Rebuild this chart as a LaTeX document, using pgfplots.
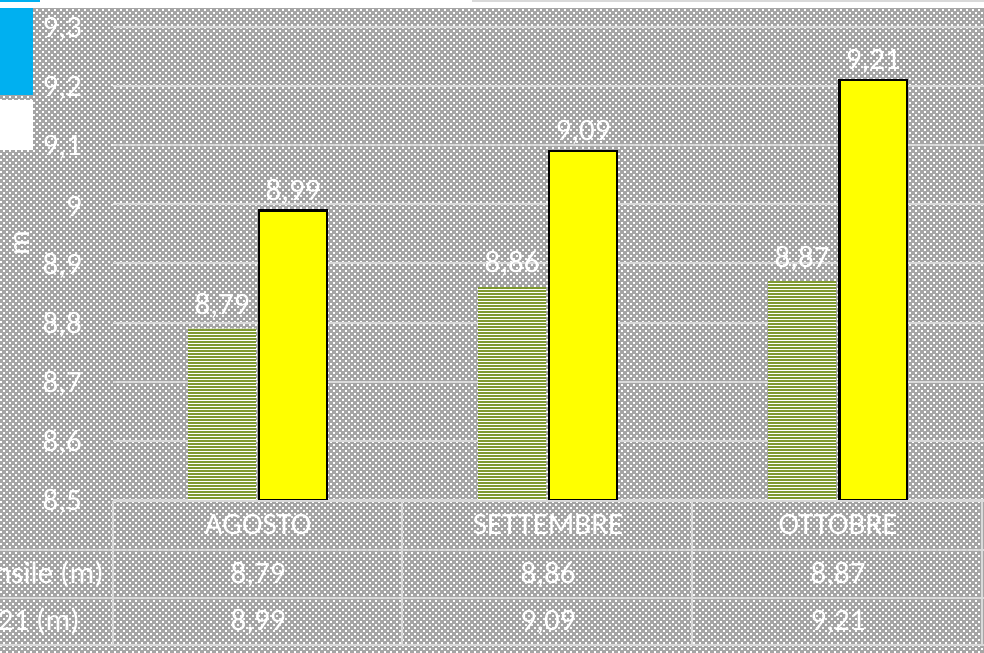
\documentclass[border=0pt]{standalone}
\usepackage{fontspec}
\setmainfont{Carlito}
\usepackage{pgfplots}
\pgfplotsset{compat=1.18}
\usetikzlibrary{patterns}
\definecolor{bggray}{HTML}{A5A5A5}
\definecolor{gridc}{HTML}{D9D9D9}
\definecolor{olivebar}{HTML}{7F9A30}
\definecolor{xlblue}{HTML}{00B0F0}
\definecolor{xlyellow}{HTML}{FFFF00}
\pgfdeclarepatternformonly{xldots}{\pgfqpoint{-1bp}{-1bp}}{\pgfqpoint{7bp}{7bp}}{\pgfqpoint{6bp}{6bp}}{%
 \pgfpathrectangle{\pgfqpoint{0bp}{0bp}}{\pgfqpoint{1.8bp}{1.8bp}}%
 \pgfpathrectangle{\pgfqpoint{3bp}{3bp}}{\pgfqpoint{1.8bp}{1.8bp}}%
 \pgfusepath{fill}}
\pgfdeclarepatternformonly{xlstripes}{\pgfqpoint{-1bp}{-1bp}}{\pgfqpoint{4bp}{4bp}}{\pgfqpoint{3bp}{3bp}}{%
 \pgfpathrectangle{\pgfqpoint{-0.5bp}{0bp}}{\pgfqpoint{4bp}{1.1bp}}%
 \pgfusepath{fill}}
\newcommand{\F}{\fontsize{31bp}{37bp}\selectfont}
\begin{document}
\begin{tikzpicture}[x=1bp,y=1bp]
\useasboundingbox (0,0) rectangle (984,653);
\clip (0,0) rectangle (984,653);
\fill[white] (0,0) rectangle (984,653);
\fill[bggray] (0,0) rectangle (984,645);
\fill[pattern=xldots, pattern color=white] (0,0) rectangle (984,645);
\fill[gridc] (472,650.5) rectangle (984,653);
\fill[xlblue] (0,651) rectangle (40,653);
\fill[xlblue] (0,558) rectangle (33,645);
\fill[white] (0,503) rectangle (33,553);
\node[rotate=90, text=white, font=\F, inner sep=0pt] at (22,410) {m};
\begin{axis}[
  at={(113bp,153bp)}, anchor=south west, scale only axis,
  width=871bp, height=473bp,
  xmin=-0.5, xmax=2.503, ymin=8.5, ymax=9.3,
  ybar, bar width=0.234,
  ytick={8.5,8.6,8.7,8.8,8.9,9,9.1,9.2,9.3},
  xtick={0,1,2}, xticklabels={AGOSTO,SETTEMBRE,OTTOBRE},
  /pgf/number format/.cd, use comma, fixed, precision=2, assume math mode=true,
  /pgfplots/.cd,
  ymajorgrids, grid style={gridc, line width=2bp},
  axis line style={draw=none}, major tick length=0pt,
  ticklabel style={font=\F, text=white, inner sep=0pt},
  yticklabel style={anchor=east, xshift=-31bp, yshift=-2bp},
  xticklabel style={anchor=base, yshift=-35bp},
  nodes near coords,
  every node near coord/.append style={font=\F, text=white, inner sep=0pt},
  clip=false,
]
\addplot[fill=olivebar, draw=none, bar shift=-0.124,
  postaction={pattern=xlstripes, pattern color=white},
  every node near coord/.append style={yshift=10bp}]
  coordinates {(0,8.79) (1,8.86) (2,8.87)};
\addplot[fill=xlyellow, draw=black, line width=2.5bp, bar shift=0.121,
  every node near coord/.append style={yshift=5bp}]
  coordinates {(0,8.99) (1,9.09) (2,9.21)};
\end{axis}
\begin{scope}[gridc, line width=2bp]
\draw (113,152) -- (984,152);
\draw (0,103) -- (984,103);
\draw (0,55) -- (984,55);
\draw (0,8) -- (984,8);
\foreach \x in {113,402,692,982} \draw (\x,8) -- (\x,152);
\end{scope}
\begin{scope}[font=\F, text=white, inner sep=0pt]
\node[anchor=base east] at (104,69) {nsile (m)};
\node[anchor=base east] at (80,22) {21 (m)};
\node[anchor=base] at (258,69) {8,79};
\node[anchor=base] at (548,69) {8,86};
\node[anchor=base] at (838,69) {8,87};
\node[anchor=base] at (258,22) {8,99};
\node[anchor=base] at (548,22) {9,09};
\node[anchor=base] at (838,22) {9,21};
\end{scope}
\end{tikzpicture}
\end{document}
